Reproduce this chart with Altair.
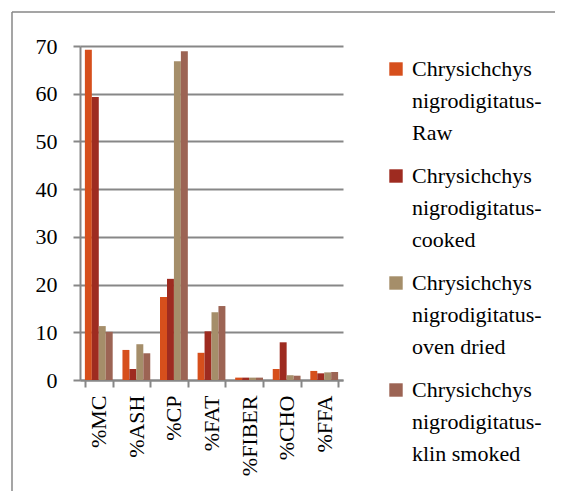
import altair as alt
import pandas as pd

categories = ["%MC", "%ASH", "%CP", "%FAT", "%FIBER", "%CHO", "%FFA"]
series = [
    "Chrysichchys nigrodigitatus-Raw",
    "Chrysichchys nigrodigitatus-cooked",
    "Chrysichchys nigrodigitatus-oven dried",
    "Chrysichchys nigrodigitatus-klin smoked",
]
raw = [69.2, 6.3, 17.4, 5.7, 0.5, 2.3, 1.9]
cooked = [59.3, 2.3, 21.2, 10.2, 0.5, 7.9, 1.4]
oven_dried = [11.3, 7.5, 66.8, 14.2, 0.5, 1.0, 1.6]
klin_smoked = [10.1, 5.6, 68.9, 15.5, 0.5, 0.9, 1.7]
colors = ["#D64F1C", "#9E2B20", "#A58E6A", "#9C6454"]
y_ticks = [0, 10, 20, 30, 40, 50, 60, 70]

rows = []
for s, vals in zip(series, [raw, cooked, oven_dried, klin_smoked]):
    for c, v in zip(categories, vals):
        rows.append({"category": c, "series": s, "value": v})
df = pd.DataFrame(rows)

FONT = "Liberation Serif"
GRAY = "#878787"
DY = 7

bars = alt.Chart(df).mark_bar().encode(
    x=alt.X(
        "category:N",
        sort=categories,
        scale=alt.Scale(paddingInner=0.26, paddingOuter=0.13),
        axis=alt.Axis(
            title=None,
            labelAngle=-90,
            labelAlign="right",
            labelBaseline="middle",
            labelFont=FONT,
            labelFontSize=22,
            labelColor="black",
            labelPadding=8,
            labelOffset=-DY,
            tickBand="extent",
            tickSize=7,
            tickColor=GRAY,
            tickWidth=2,
            domainColor=GRAY,
            domainWidth=2,
            grid=False,
        ),
    ),
    xOffset=alt.XOffset("series:N", sort=series),
    y=alt.Y(
        "value:Q",
        scale=alt.Scale(domain=[0, 70], nice=False),
        axis=alt.Axis(
            title=None,
            values=y_ticks,
            labelFont=FONT,
            labelFontSize=22,
            labelColor="black",
            labelPadding=16,
            labelOffset=-DY,
            tickSize=7,
            tickColor=GRAY,
            tickWidth=2,
            domainColor=GRAY,
            domainWidth=2,
            grid=True,
            gridColor=GRAY,
            gridWidth=2,
        ),
    ),
    color=alt.Color(
        "series:N",
        sort=series,
        scale=alt.Scale(domain=series, range=colors),
        legend=alt.Legend(
            title=None,
            orient="none",
            legendX=305,
            legendY=12,
            symbolType="square",
            symbolSize=180,
            symbolStrokeWidth=0,
            labelFont=FONT,
            labelFontSize=22,
            labelColor="black",
            labelLimit=0,
            labelBaseline="alphabetic",
            labelOffset=5,
            rowPadding=21,
            labelExpr="[slice(datum.label,0,12), slice(datum.label,13,28), slice(datum.label,28)]",
        ),
    ),
)

frame = pd.DataFrame({"k": [0]})
top_line = alt.Chart(frame).mark_rule(color=GRAY, strokeWidth=1.5).encode(
    x=alt.value(-68), x2=alt.value(483), y=alt.value(-34)
)
left_line = alt.Chart(frame).mark_rule(color=GRAY, strokeWidth=1.5).encode(
    x=alt.value(-68), y=alt.value(-34), y2=alt.value(453)
)

chart = alt.layer(top_line, left_line, bars).properties(
    width=263,
    height=334,
    autosize=alt.AutoSizeParams(type="none"),
    padding={"left": 72, "top": 38, "right": 212, "bottom": 111},
).configure(
    font=FONT,
    view={"stroke": None},
    style={"guide-label": {"lineHeight": 32, "font": FONT, "dy": DY}},
)

chart.save("out.html", embed_options={"renderer": "svg", "actions": False})
